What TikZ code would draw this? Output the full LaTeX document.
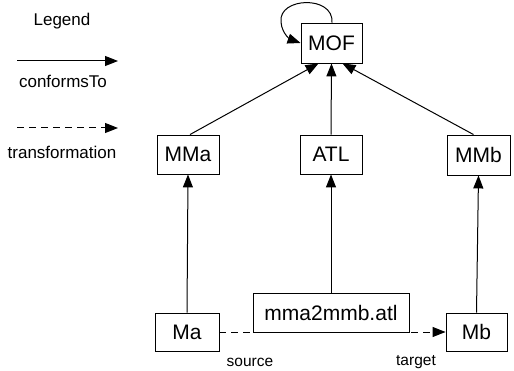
\documentclass[tikz,border=0pt]{standalone}
\usepackage{fontspec}
\setmainfont{Liberation Sans}
\usetikzlibrary{arrows.meta}
\begin{document}
\begin{tikzpicture}[x=1pt,y=-1pt,
  box/.style={draw,line width=0.9pt,inner sep=0pt,font=\fontsize{21}{23}\selectfont},
  arr/.style={line width=1pt,-{Triangle[length=13pt,width=10pt]}},
  lbl/.style={inner sep=0pt,font=\fontsize{17}{19}\selectfont},
  sml/.style={inner sep=0pt,font=\fontsize{15.5}{17}\selectfont}]
\useasboundingbox (0,0) rectangle (514,371);
% legend
\node[lbl] (leg) at (62,21) {Legend};
\coordinate (l1a) at (17,61);
\coordinate (l1b) at (118,61);
\draw[arr] (l1a) -- (l1b);
\node[lbl] (conf) at (63,81) {conformsTo};
\coordinate (l2a) at (17,128);
\coordinate (l2b) at (118,128);
\draw[arr,dashed,dash pattern=on 7pt off 5pt] (l2a) -- (l2b);
\node[lbl] (trans) at (62,152) {transformation};
% boxes
\node[box,minimum width=61pt,minimum height=40pt] (MOF) at (331.5,43) {MOF};
\node[box,minimum width=62pt,minimum height=39pt] (MMa) at (188,154.5) {MMa};
\node[box,minimum width=62pt,minimum height=39pt] (ATL) at (331,154.5) {ATL};
\node[box,minimum width=63pt,minimum height=40pt] (MMb) at (478.5,155) {MMb};
\node[box,minimum width=64pt,minimum height=38pt] (Ma) at (187,332) {Ma};
\node[box,minimum width=156pt,minimum height=39pt] (mma) at (331,312.5) {mma2mmb.atl};
\node[box,minimum width=61pt,minimum height=38pt] (Mb) at (476.5,332) {Mb};
% arrows
\draw[arr] (Ma.north) -- (MMa.south);
\draw[arr] (mma.north) -- (ATL.south);
\draw[arr] (Mb.north) -- (MMb.south);
\draw[arr] ([xshift=2pt]MMa.north) -- ([xshift=-13pt]MOF.south);
\draw[arr] (ATL.north) -- (MOF.south);
\draw[arr] ([xshift=-5pt]MMb.north) -- ([xshift=11pt]MOF.south);
\draw[arr] ([xshift=0.5pt]MOF.north) .. controls (334,-5) and (278,-3) .. (281,22) .. controls (282,35) and (292,40) .. (MOF.west);
\draw[arr,dashed,dash pattern=on 7pt off 5pt] (Ma.east) -- (Mb.west);
\node[sml] (src) at (250,362) {source};
\node[sml] (tgt) at (416,362) {target};
\end{tikzpicture}
\end{document}
